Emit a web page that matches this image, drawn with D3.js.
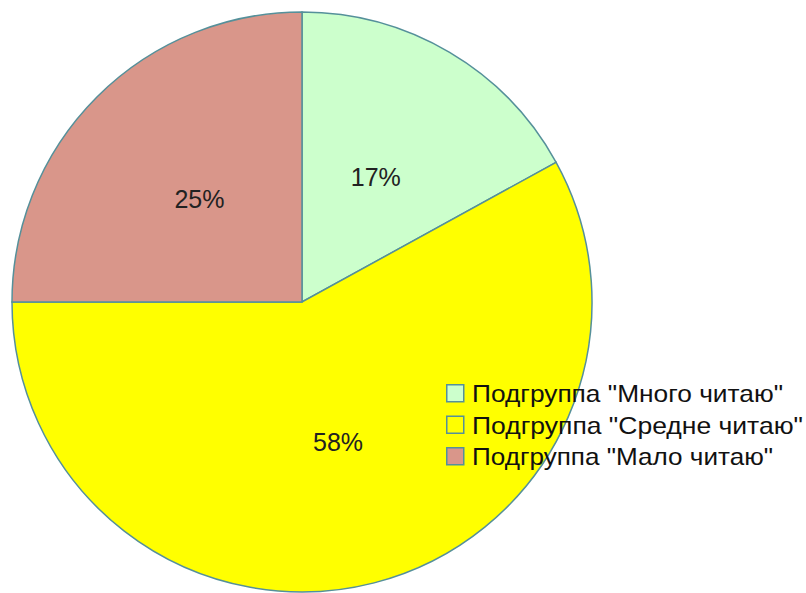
<!DOCTYPE html>
<html><head><meta charset="utf-8">
<script src="https://cdn.jsdelivr.net/npm/d3@7"></script>
<style>body{margin:0;background:#fff}svg{display:block}</style>
</head><body>
<svg id="c" width="806" height="593"></svg>
<script>
const categories = ['Подгруппа "Много читаю"', 'Подгруппа "Средне читаю"', 'Подгруппа "Мало читаю"'];
const values = [17, 58, 25];
const colors = ["#ccffcc", "#ffff00", "#d9968a"];
const labels = ["17%", "58%", "25%"];

const svg = d3.select("#c");
const cx = 302, cy = 302, R = 290;
const data = categories.map((c, i) => ({c, v: values[i], col: colors[i], lab: labels[i]}));
const pie = d3.pie().value(d => d.v).sort(null);
const arc = d3.arc().innerRadius(0).outerRadius(R);
const labArc = d3.arc().innerRadius(R * 0.5).outerRadius(R * 0.5);
const g = svg.append("g").attr("transform", `translate(${cx},${cy})`);
const arcs = pie(data);
g.selectAll("path").data(arcs).enter().append("path")
  .attr("d", arc).attr("fill", d => d.data.col)
  .attr("stroke", "#55909a").attr("stroke-width", 1.5);
g.selectAll("text").data(arcs).enter().append("text")
  .attr("transform", d => `translate(${labArc.centroid(d)})`)
  .attr("text-anchor", "middle").attr("dy", "0.36em")
  .attr("font-family", "Liberation Sans, Arial, sans-serif").attr("font-size", 25)
  .attr("fill", "#222").text(d => d.data.lab);

const lg = svg.append("g").attr("transform", "translate(446,384)");
const rows = lg.selectAll("g").data(data).enter().append("g")
  .attr("transform", (d, i) => `translate(0,${i * 31.5})`);
rows.append("rect").attr("x", 0.75).attr("y", 0.75).attr("width", 17).attr("height", 17)
  .attr("fill", d => d.col).attr("stroke", "#55909a").attr("stroke-width", 1.5);
const widths = [311, 331, 301];
rows.append("text").attr("x", 26).attr("y", 18)
  .attr("font-family", "Liberation Sans, Arial, sans-serif").attr("font-size", 24)
  .attr("textLength", (d, i) => widths[i]).attr("lengthAdjust", "spacingAndGlyphs")
  .attr("fill", "#111").text(d => d.c);
</script>
</body></html>
